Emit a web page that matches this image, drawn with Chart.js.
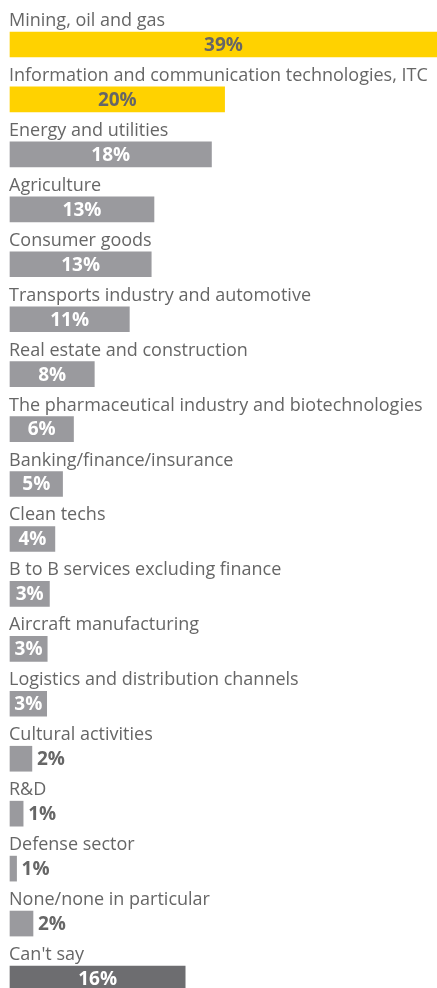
<!DOCTYPE html>
<html>
<head>
<meta charset="utf-8">
<script src="https://cdn.jsdelivr.net/npm/chart.js@4/dist/chart.umd.min.js"></script>
<style>
    body { margin: 0; background: #fff; }
    #caja { width: 437px; height: 988px; }
</style>
</head>
<body>
<div id="caja"><canvas id="grafica"></canvas></div>
<script>
// sectores (en el orden de la imagen)
const sectores = [
    "Mining, oil and gas",
    "Information and communication technologies, ITC",
    "Energy and utilities",
    "Agriculture",
    "Consumer goods",
    "Transports industry and automotive",
    "Real estate and construction",
    "The pharmaceutical industry and biotechnologies",
    "Banking/finance/insurance",
    "Clean techs",
    "B to B services excluding finance",
    "Aircraft manufacturing",
    "Logistics and distribution channels",
    "Cultural activities",
    "R&D",
    "Defense sector",
    "None/none in particular",
    "Can't say"
];
// largo de cada barra (en %)
const valores = [39, 19.6, 18.4, 13.15, 12.9, 10.9, 7.7, 5.8, 4.8, 4.1, 3.6, 3.4, 3.35, 2.0, 1.2, 0.6, 2.1, 16];
// etiquetas tal como aparecen
const etiquetas = ["39%", "20%", "18%", "13%", "13%", "11%", "8%", "6%", "5%", "4%", "3%", "3%", "3%", "2%", "1%", "1%", "2%", "16%"];

const amarillo = "#ffd200";
const gris = "#9a9a9e";
const grisOscuro = "#6d6d70";
const colorTexto = "#666666";

function colorBarra(i) {
    if (i < 2) return amarillo;
    if (i == sectores.length - 1) return grisOscuro;
    return gris;
}

// dibuja el nombre encima de cada barra y el porcentaje
const textos = {
    id: "textos",
    afterDatasetsDraw(chart) {
        const ctx = chart.ctx;
        const barras = chart.getDatasetMeta(0).data;
        ctx.save();
        for (let i = 0; i < barras.length; i++) {
            const b = barras[i];
            const alto = b.height;
            // nombre del sector
            ctx.font = "18px 'Open Sans'";
            ctx.fillStyle = colorTexto;
            ctx.textAlign = "left";
            ctx.textBaseline = "alphabetic";
            ctx.fillText(sectores[i], 9, b.y - alto / 2 - 6);
            // porcentaje
            const ancho = b.x - b.base;
            ctx.font = "bold 19px 'Open Sans'";
            ctx.textBaseline = "middle";
            if (ancho > 30) {
                ctx.textAlign = "center";
                ctx.fillStyle = i < 2 ? colorTexto : "#ffffff";
                ctx.fillText(etiquetas[i], (b.x + b.base) / 2, b.y + 1);
            } else {
                ctx.textAlign = "left";
                ctx.fillStyle = colorTexto;
                ctx.fillText(etiquetas[i], b.x + 5, b.y + 1);
            }
        }
        ctx.restore();
    }
};

new Chart(document.getElementById("grafica"), {
    type: "bar",
    data: {
        labels: sectores,
        datasets: [{
            data: valores,
            backgroundColor: (c) => colorBarra(c.dataIndex),
            barThickness: 25,
            clip: false
        }]
    },
    options: {
        indexAxis: "y",
        responsive: true,
        maintainAspectRatio: false,
        animation: false,
        layout: {
            padding: { left: 10, right: 0, top: 44.5, bottom: 9.5 }
        },
        plugins: {
            legend: { display: false },
            tooltip: { enabled: false }
        },
        scales: {
            x: { display: false, min: 0, max: 39 },
            y: { display: false, offset: false, grid: { display: false } }
        }
    },
    plugins: [textos]
});
</script>
</body>
</html>
